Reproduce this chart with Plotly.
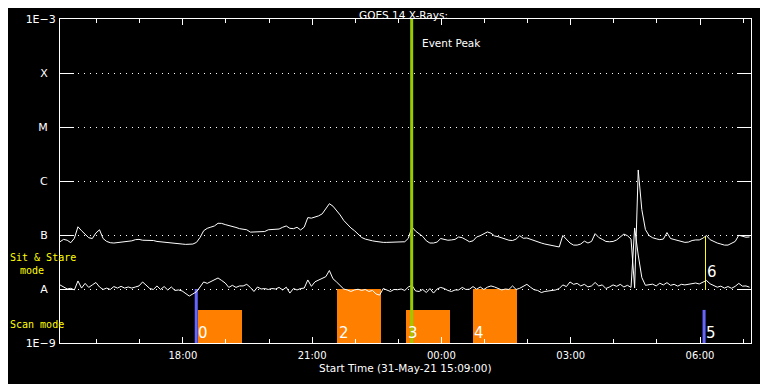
import numpy as np
import pandas as pd
import plotly.graph_objects as go

# ---------------- data ----------------
start_time = "2021-05-31 15:09"
sample_step = "5min"

# GOES 1-8 A (long) channel, W/m^2, 5-minute samples from start_time
long_flux = [
    7.5e-8, 8.3e-8, 8.0e-8, 7.2e-8, 8.7e-8, 1.42e-7, 1.2e-7, 1.03e-7, 8.9e-8, 8.6e-8,
    1.09e-7, 1.25e-7, 8.6e-8, 7.6e-8, 7.2e-8, 7.1e-8, 7.2e-8, 7.3e-8, 7.4e-8, 7.5e-8,
    7.8e-8, 8.2e-8, 8.3e-8, 8.0e-8, 8.0e-8, 8.0e-8, 7.9e-8, 7.6e-8, 7.5e-8, 7.5e-8,
    7.3e-8, 7.1e-8, 7.0e-8, 6.9e-8, 6.8e-8, 6.7e-8, 6.7e-8, 6.8e-8, 7.3e-8, 9.0e-8,
    1.2e-7, 1.33e-7, 1.4e-7, 1.47e-7, 1.65e-7, 1.64e-7, 1.56e-7, 1.51e-7, 1.45e-7, 1.38e-7,
    1.31e-7, 1.28e-7, 1.25e-7, 1.13e-7, 1.13e-7, 1.13e-7, 1.13e-7, 1.16e-7, 1.25e-7, 1.27e-7,
    1.27e-7, 1.29e-7, 1.39e-7, 1.47e-7, 1.33e-7, 1.31e-7, 1.39e-7, 1.24e-7, 1.4e-7, 2.1e-7,
    2.05e-7, 2.15e-7, 2.26e-7, 2.46e-7, 3.03e-7, 3.8e-7, 3.42e-7, 2.88e-7, 2.35e-7, 1.86e-7,
    1.55e-7, 1.35e-7, 1.2e-7, 1.06e-7, 9.0e-8, 8.4e-8, 8.0e-8, 7.8e-8, 7.6e-8, 7.4e-8,
    7.3e-8, 7.3e-8, 7.3e-8, 7.3e-8, 7.4e-8, 7.5e-8, 7.5e-8, 8.7e-8, 1.41e-7, 1.18e-7,
    1.06e-7, 9.4e-8, 7.8e-8, 7.1e-8, 7.1e-8, 7.4e-8, 8.6e-8, 8.3e-8, 8.0e-8, 8.1e-8,
    8.3e-8, 9.2e-8, 8.9e-8, 8.2e-8, 7.5e-8, 7.8e-8, 9.2e-8, 9.7e-8, 1.04e-7, 1.14e-7,
    1.08e-7, 9.6e-8, 9.3e-8, 8.9e-8, 8.3e-8, 8.0e-8, 7.9e-8, 8.4e-8, 9.7e-8, 8.7e-8,
    8.8e-8, 8.3e-8, 8.0e-8, 7.4e-8, 7.1e-8, 6.8e-8, 6.6e-8, 6.3e-8, 6.3e-8, 6.0e-8,
    9.8e-8, 8.3e-8, 7.1e-8, 6.5e-8, 6.5e-8, 6.8e-8, 7.7e-8, 7.1e-8, 7.6e-8, 1.06e-7,
    9.0e-8, 8.3e-8, 7.6e-8, 7.5e-8, 7.6e-8, 8.1e-8, 9.2e-8, 1.04e-7, 9.7e-8, 8.4e-8,
    1.05e-8, 1.6e-6, 2.96e-7, 1.26e-7, 9.8e-8, 8.9e-8, 8.5e-8, 8.2e-8, 8.4e-8, 1.11e-7,
    8.6e-8, 8.3e-8, 8.0e-8, 7.6e-8, 7.3e-8, 7.4e-8, 7.9e-8, 8.1e-8, 8.1e-8, 8.7e-8,
    9.8e-8, 8.2e-8, 7.6e-8, 7.1e-8, 6.8e-8, 6.5e-8, 6.5e-8, 7.0e-8, 7.6e-8, 9.9e-8,
    9.5e-8, 9.1e-8, 9.2e-8,
]

# GOES 0.5-4 A (short) channel, W/m^2, same samples
short_flux = [
    1.19e-8, 1.07e-8, 1.0e-8, 1.03e-8, 9.6e-9, 1.41e-8, 1.04e-8, 1.27e-8, 1.07e-8, 1.19e-8,
    1.32e-8, 1.09e-8, 9.8e-9, 1.04e-8, 9.8e-9, 1.11e-8, 1.04e-8, 1.12e-8, 1.04e-8, 1.09e-8,
    1.04e-8, 1.09e-8, 1.14e-8, 1.35e-8, 1.19e-8, 1.02e-8, 9.8e-9, 1.14e-8, 9.8e-9, 1.11e-8,
    9.6e-9, 1.09e-8, 9.4e-9, 9.6e-9, 9.2e-9, 8.3e-9, 7.4e-9, 8.1e-9, 8.9e-9, 1.09e-8,
    1.35e-8, 1.27e-8, 1.36e-8, 1.47e-8, 1.6e-8, 1.44e-8, 1.29e-8, 1.07e-8, 1.17e-8, 1.07e-8,
    1.14e-8, 1.14e-8, 1.22e-8, 1.07e-8, 9.0e-9, 1.09e-8, 1.0e-8, 1.02e-8, 9.8e-9, 1.02e-8,
    1.0e-8, 1.07e-8, 9.6e-9, 1.08e-8, 8.4e-9, 1.02e-8, 9.6e-9, 1.02e-8, 1.04e-8, 1.47e-8,
    1.12e-8, 1.36e-8, 1.47e-8, 1.57e-8, 1.69e-8, 2.2e-8, 1.55e-8, 1.35e-8, 1.17e-8, 1.0e-8,
    9.6e-9, 9.0e-9, 9.6e-9, 9.9e-9, 9.4e-9, 9.8e-9, 9.0e-9, 9.4e-9, 8.1e-9, 7.7e-9,
    1.02e-8, 9.6e-9, 9.0e-9, 9.8e-9, 9.7e-9, 1.0e-8, 9.4e-9, 1.09e-8, 1.17e-8, 9.2e-9,
    9.0e-9, 9.8e-9, 8.6e-9, 1.02e-8, 8.4e-9, 1.0e-8, 1.07e-8, 1.02e-8, 9.4e-9, 9.0e-9,
    9.6e-9, 9.6e-9, 1.07e-8, 9.8e-9, 9.9e-9, 1.11e-8, 9.9e-9, 1.09e-8, 9.8e-9, 1.08e-8,
    1.14e-8, 1.09e-8, 1.04e-8, 9.6e-9, 1.0e-8, 9.8e-9, 1.14e-8, 9.8e-9, 1.03e-8, 1.12e-8,
    1.22e-8, 1.08e-8, 9.7e-9, 9.4e-9, 8.6e-9, 9.0e-9, 9.2e-9, 9.6e-9, 9.6e-9, 1.02e-8,
    1.19e-8, 1.11e-8, 1.35e-8, 1.22e-8, 1.27e-8, 1.14e-8, 1.22e-8, 1.09e-8, 1.14e-8, 1.32e-8,
    1.14e-8, 1.19e-8, 1.02e-8, 1.09e-8, 1.19e-8, 1.12e-8, 1.22e-8, 1.09e-8, 1.17e-8, 1.07e-8,
    1.35e-7, 4.26e-8, 1.63e-8, 1.17e-8, 1.19e-8, 1.23e-8, 1.14e-8, 1.28e-8, 1.19e-8, 1.31e-8,
    1.17e-8, 1.22e-8, 1.13e-8, 1.22e-8, 1.19e-8, 1.22e-8, 1.22e-8, 1.29e-8, 1.24e-8, 1.35e-8,
    1.44e-8, 1.25e-8, 1.15e-8, 1.08e-8, 1.13e-8, 1.04e-8, 1.11e-8, 1.03e-8, 1.12e-8, 1.27e-8,
    1.13e-8, 1.14e-8, 1.08e-8,
]

# scan-mode observations (orange blocks)
scan_start = ["2021-05-31 18:20:30", "2021-05-31 21:34:30", "2021-05-31 23:10:00", "2021-06-01 00:43:30"]
scan_minutes = [62, 62, 62, 62]
scan_top = [4.1e-9, 1.0e-8, 4.1e-9, 1.0e-8]

# sit & stare observations (blue markers)
stare_time = ["2021-05-31 18:18:40", "2021-06-01 06:05:40"]
stare_top = [1.0e-8, 4.1e-9]

# event marker 6 (yellow)
marker6_time = "2021-06-01 06:07:40"
marker6_range = [9.6e-9, 9.5e-8]

# event numbers
event_ids = ["0", "2", "3", "4", "5", "6"]
event_time = ["2021-05-31 18:18", "2021-05-31 21:34", "2021-05-31 23:10", "2021-06-01 00:43",
              "2021-06-01 06:05", "2021-06-01 06:07"]
event_y = [1.53e-9, 1.53e-9, 1.53e-9, 1.53e-9, 1.53e-9, 2.05e-8]

peak_time = "2021-05-31 23:18:36"

x_range = ["2021-05-31 15:09", "2021-06-01 07:11"]
y_tickvals = [1e-9, 1e-8, 1e-7, 1e-6, 1e-5, 1e-4, 1e-3]
y_ticktext = ["1E\u22129", "A", "B", "C", "M", "X", "1E\u22123"]

# ---------------- figure ----------------
times = pd.date_range(start_time, periods=len(long_flux), freq=sample_step)

WHITE = "#ffffff"
ORANGE = "#ff8000"
BLUE = "#6666ff"
YELLOW = "#ffff00"
GREEN = "#99cc00"
FONT = "DejaVu Sans"

# the page places the figure 8 px in from the window's top-left corner
PAGE = 8
W, H = 768, 384
PLOT_L, PLOT_R, PLOT_T, PLOT_B = 60, 751, 19, 343          # wanted, in window pixels
L, T = PLOT_L - PAGE, PLOT_T - PAGE
R, B = W - (PLOT_R - PAGE), H - (PLOT_B - PAGE)
PW, PH = PLOT_R - PLOT_L, PLOT_B - PLOT_T


def px_x(x):   # window pixel -> paper x
    return (x - PLOT_L) / PW


def px_y(y):   # window pixel -> paper y
    return (PLOT_B - y) / PH


fig = go.Figure()

scan_start_ts = pd.to_datetime(scan_start)
scan_dur = pd.to_timedelta(scan_minutes, unit="min")
fig.add_trace(go.Bar(
    x=scan_start_ts + scan_dur / 2,
    y=np.array(scan_top) - 1e-9,
    base=1e-9,
    width=[d.total_seconds() * 1000 for d in scan_dur],
    marker=dict(color=ORANGE, line=dict(width=0)),
    hoverinfo="skip",
))

for t, top in zip(stare_time, stare_top):
    fig.add_trace(go.Scatter(x=[t, t], y=[1e-9, top], mode="lines",
                             line=dict(color=BLUE, width=3), hoverinfo="skip"))

fig.add_trace(go.Scatter(x=[marker6_time, marker6_time], y=marker6_range, mode="lines",
                         line=dict(color=YELLOW, width=1), hoverinfo="skip"))

fig.add_trace(go.Scatter(x=times, y=long_flux, mode="lines",
                         line=dict(color=WHITE, width=1), hoverinfo="skip"))
fig.add_trace(go.Scatter(x=times, y=short_flux, mode="lines",
                         line=dict(color=WHITE, width=1), hoverinfo="skip"))

fig.add_trace(go.Scatter(x=[peak_time, peak_time], y=[1e-9, 1e-3], mode="lines",
                         line=dict(color=GREEN, width=3), hoverinfo="skip"))

annotations = []
for eid, t, yv in zip(event_ids, event_time, event_y):
    annotations.append(dict(x=t, y=np.log10(yv), xref="x", yref="y", text=eid,
                            showarrow=False, xanchor="left", yanchor="middle",
                            font=dict(color=WHITE, size=15, family=FONT)))
annotations.append(dict(x=peak_time, y=px_y(43), xref="x", yref="paper", text="Event Peak",
                        showarrow=False, xanchor="left", yanchor="middle", xshift=8,
                        font=dict(color=WHITE, size=10.5, family=FONT)))
side_font = dict(color=YELLOW, size=10, family="DejaVu Sans Mono")
annotations.append(dict(x=px_x(8), y=px_y(258), xref="paper", yref="paper", text="Sit & Stare",
                        showarrow=False, xanchor="left", yanchor="middle", font=side_font))
annotations.append(dict(x=px_x(18), y=px_y(270), xref="paper", yref="paper", text="mode",
                        showarrow=False, xanchor="left", yanchor="middle", font=side_font))
annotations.append(dict(x=px_x(8), y=px_y(324), xref="paper", yref="paper", text="Scan mode",
                        showarrow=False, xanchor="left", yanchor="middle", font=side_font))
annotations.append(dict(x=px_x(405), y=px_y(368), xref="paper", yref="paper",
                        text="Start Time (31-May-21 15:09:00)",
                        showarrow=False, xanchor="center", yanchor="middle",
                        font=dict(color=WHITE, size=10.5, family=FONT)))
annotations.append(dict(x=px_x(403), y=px_y(PAGE), xref="paper", yref="paper",
                        text="GOES 14 X-Rays:",
                        showarrow=False, xanchor="center", yanchor="top", borderpad=0,
                        font=dict(color=WHITE, size=10.5, family=FONT)))

fig.update_layout(
    width=W, height=H,
    margin=dict(l=L, r=R, t=T, b=B, pad=0),
    paper_bgcolor="black", plot_bgcolor="black",
    showlegend=False, bargap=0,
    annotations=annotations,
    xaxis=dict(
        type="date", range=x_range, showgrid=False, zeroline=False, automargin=False,
        showline=True, linecolor=WHITE, linewidth=1, mirror="ticks",
        ticks="inside", ticklen=6, tickwidth=1, tickcolor=WHITE,
        dtick=3 * 3600 * 1000, tick0="2021-05-31 18:00", tickformat="%H:%M",
        tickfont=dict(color=WHITE, size=10, family=FONT), ticklabelstandoff=3,
        minor=dict(ticks="inside", ticklen=4, tickwidth=1, tickcolor=WHITE,
                   dtick=3600 * 1000, tick0="2021-05-31 18:00", showgrid=False),
    ),
    yaxis=dict(
        type="log", range=[-9, -3], zeroline=False, automargin=False,
        showline=True, linecolor=WHITE, linewidth=1, mirror="ticks",
        ticks="inside", ticklen=14, tickwidth=1, tickcolor=WHITE,
        tickvals=y_tickvals,
        ticktext=[t if t.startswith("1E") else t + "\u2007\u200a" for t in y_ticktext],
        tickfont=dict(color=WHITE, size=11, family=FONT), ticklabelstandoff=1,
        showgrid=True, gridcolor=WHITE, gridwidth=1, griddash="1px,5px",
    ),
)

fig.write_html("out.html")
